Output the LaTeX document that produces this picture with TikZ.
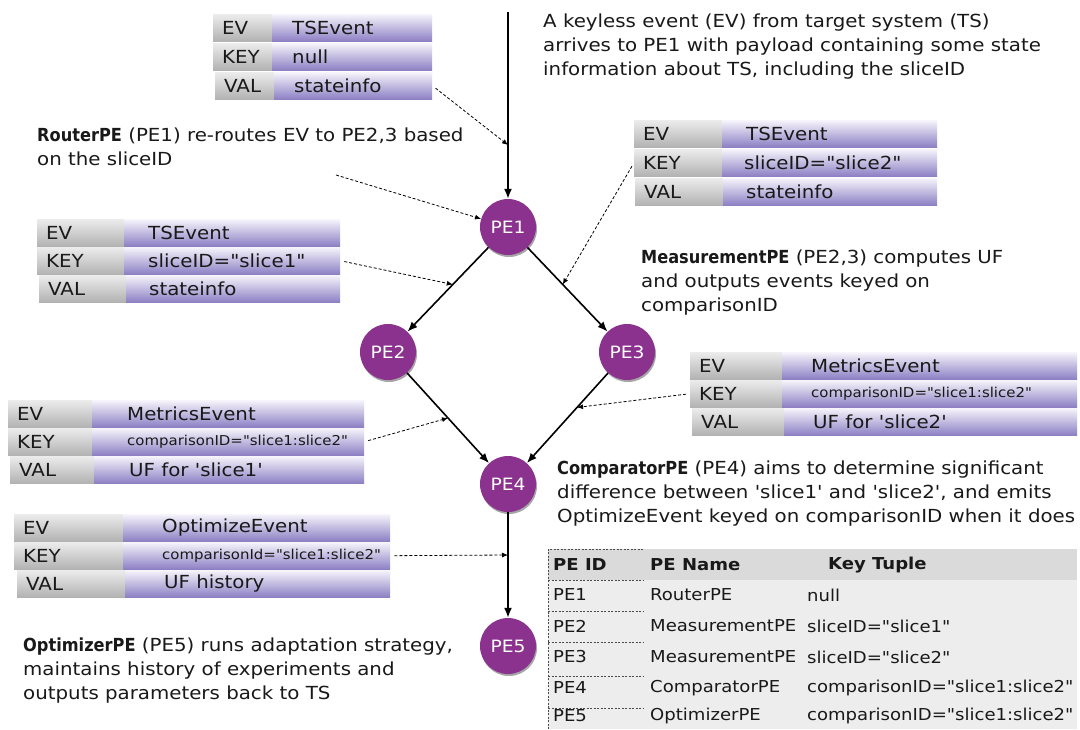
\documentclass[tikz,border=0pt]{standalone}
\usepackage{fontspec}
\setmainfont{DejaVu Sans}[Ligatures=TeXOff, FakeStretch=1.1]
\newfontfamily\bfont{DejaVu Sans Bold}[Ligatures=TeXOff, FakeStretch=0.9]
\usetikzlibrary{calc,arrows.meta,shadows}
\definecolor{pecol}{RGB}{139,50,142}
\definecolor{gtop}{RGB}{236,236,236}
\definecolor{gbot}{RGB}{178,178,178}
\definecolor{ptop}{RGB}{246,244,251}
\definecolor{pbot}{RGB}{140,128,196}
\definecolor{hdrgray}{RGB}{218,218,218}
\definecolor{bodygray}{RGB}{237,237,237}
\definecolor{ink}{RGB}{25,25,25}
\tikzset{
  txt/.style={font=\fontsize{18}{24}\selectfont, align=left, inner sep=0, anchor=north west, text=ink},
  lbl/.style={font=\fontsize{18}{20}\selectfont, inner sep=0, anchor=west, text=ink},
  smalllbl/.style={font=\fontsize{13.6}{16}\selectfont, inner sep=0, anchor=west, text=ink},
  tbl/.style={font=\fontsize{16.4}{20}\selectfont, inner sep=0, anchor=west, text=ink},
  graycell/.style={top color=gtop, bottom color=gbot, draw=none, inner sep=0, anchor=north west},
  purpcell/.style={top color=ptop, bottom color=pbot, draw=none, inner sep=0, anchor=north west},
  penode/.style={circle, fill=pecol, minimum size=56pt, inner sep=0, text=white,
    font=\fontsize{17}{20}\selectfont,
    drop shadow={opacity=0.35, shadow xshift=1pt, shadow yshift=-2pt, fill=black}},
  flow/.style={line width=1.6pt, -{Latex[length=10pt,width=8pt]}},
  dflow/.style={line width=0.8pt, dash pattern=on 3pt off 2pt, -{Latex[length=6pt,width=5pt]}, shorten <=4pt},
  tdash/.style={line width=0.6pt, dash pattern=on 2pt off 1.5pt, black!70}
}
% #1 name, #2 xl, #3 xsplit, #4 xr, #5 ytop, #6 height, #7 label, #8 value, #9 value style
\newcommand\evrow[9]{%
  \node[graycell, minimum width={(#3-#2)*1pt}, minimum height={#6*1pt}] (#1l) at (#2,#5) {};
  \node[purpcell, minimum width={(#4-#3)*1pt}, minimum height={#6*1pt}] (#1v) at (#3,#5) {};
  \node[lbl] (#1lt) at ([xshift=9pt]#1l.west) {#7};
  \node[#9] (#1vt) at ([xshift=20pt]#1v.west) {#8};
}
\begin{document}
\begin{tikzpicture}[x=1pt,y=-1pt]
\useasboundingbox (0,0) rectangle (1080,729);
\fill[white] (0,0) rectangle (1080,729);

% ---------- event tables ----------
% A (top)
\evrow{aev}{213}{272}{432}{14}{27}{EV}{TSEvent}{lbl}
\evrow{akey}{213}{272}{432}{43}{27}{KEY}{null}{lbl}
\evrow{aval}{215}{274}{432}{72}{27}{VAL}{stateinfo}{lbl}
% B (slice1)
\evrow{bev}{37}{124}{340}{219}{27}{EV}{TSEvent}{lbl, xshift=4pt}
\evrow{bkey}{37}{124}{340}{247}{27}{KEY}{sliceID="slice1"}{lbl, xshift=4pt}
\evrow{bval}{39}{126}{340}{275}{27}{VAL}{stateinfo}{lbl, xshift=3pt}
% C (slice2)
\evrow{cev}{634}{722}{937}{120}{27}{EV}{TSEvent}{lbl, xshift=4pt}
\evrow{ckey}{634}{722}{937}{149}{27}{KEY}{sliceID="slice2"}{lbl, xshift=2pt}
\evrow{cval}{635}{723}{937}{178}{27}{VAL}{stateinfo}{lbl, xshift=3pt}
% D (metrics slice2)
\evrow{dev}{690}{782}{1077}{352}{27}{EV}{MetricsEvent}{lbl, xshift=9pt}
\evrow{dkey}{690}{782}{1077}{380}{27}{KEY}{comparisonID="slice1:slice2"}{smalllbl, xshift=9pt}
\evrow{dval}{692}{784}{1077}{408}{27}{VAL}{UF for 'slice2'}{lbl, xshift=9pt}
% E (metrics slice1)
\evrow{eev}{8}{92}{364}{400}{27}{EV}{MetricsEvent}{lbl, xshift=15pt}
\evrow{ekey}{8}{92}{364}{428}{27}{KEY}{comparisonID="slice1:slice2"}{smalllbl, xshift=15pt}
\evrow{eval}{10}{94}{364}{456}{27}{VAL}{UF for 'slice1'}{lbl, xshift=15pt}
% F (optimize)
\evrow{fev}{14}{123}{390}{514}{27}{EV}{OptimizeEvent}{lbl, xshift=19pt}
\evrow{fkey}{14}{123}{390}{542}{27}{KEY}{comparisonId="slice1:slice2"}{smalllbl, xshift=19pt}
\evrow{fval}{17}{125}{390}{570}{27}{VAL}{UF history}{lbl, xshift=19pt}

% ---------- descriptive texts ----------
\node[txt] (t1) at (543,14) {A keyless event (EV) from target system (TS)\\arrives to PE1 with payload containing some state\\information about TS, including the sliceID};
\node[txt] (t2) at (37,128) {{\bfont RouterPE} (PE1) re-routes EV to PE2,3 based\\on the sliceID};
\node[txt] (t3) at (641,250) {{\bfont MeasurementPE} (PE2,3) computes UF\\and outputs events keyed on\\comparisonID};
\node[txt] (t4) at (557,461) {{\bfont ComparatorPE} (PE4) aims to determine significant\\difference between 'slice1' and 'slice2', and emits\\OptimizeEvent keyed on comparisonID when it does};
\node[txt] (t5) at (23,638) {{\bfont OptimizerPE} (PE5) runs adaptation strategy,\\maintains history of experiments and\\outputs parameters back to TS};

% ---------- PE table ----------
\node[fill=hdrgray, anchor=north west, minimum width=529pt, minimum height=31pt, inner sep=0] (thead) at (548,549) {};
\node[fill=bodygray, anchor=north west, minimum width=529pt, minimum height=149pt, inner sep=0] (tbody) at (548,580) {};
\node[tbl, font=\fontsize{16.4}{20}\selectfont\bfseries] (h1) at (553,565) {PE ID};
\node[tbl, font=\fontsize{16.4}{20}\selectfont\bfseries] (h2) at (650,565) {PE Name};
\node[tbl, font=\fontsize{16.4}{20}\selectfont\bfseries] (h3) at (828,565) {Key Tuple};
\node[tbl] (r1a) at (553,595) {PE1}; \node[tbl] (r1b) at (650,595) {RouterPE}; \node[tbl] (r1c) at (807,595) {null};
\node[tbl] (r2a) at (553,626) {PE2}; \node[tbl] (r2b) at (650,626) {MeasurementPE}; \node[tbl] (r2c) at (807,626) {sliceID="slice1"};
\node[tbl] (r3a) at (553,657) {PE3}; \node[tbl] (r3b) at (650,657) {MeasurementPE}; \node[tbl] (r3c) at (807,657) {sliceID="slice2"};
\node[tbl] (r4a) at (553,688) {PE4}; \node[tbl] (r4b) at (650,688) {ComparatorPE}; \node[tbl] (r4c) at (807,688) {comparisonID="slice1:slice2"};
\node[tbl] (r5a) at (553,716) {PE5}; \node[tbl] (r5b) at (650,716) {OptimizerPE}; \node[tbl] (r5c) at (807,716) {comparisonID="slice1:slice2"};
\draw[tdash] (548,729) -- (548,549) -- (643,549);
\foreach \yy in {580,611,642,676,708} \draw[tdash] (548,\yy) -- (643,\yy);

% ---------- PE nodes ----------
\coordinate (src) at (508,12);
\node[penode] (pe1) at (508,227) {PE1};
\node[penode] (pe2) at (388,352) {PE2};
\node[penode] (pe3) at (627,352) {PE3};
\node[penode] (pe4) at (508,484) {PE4};
\node[penode] (pe5) at (508,646) {PE5};

\draw[flow] (src) -- (pe1);
\draw[flow] (pe1) -- (pe2);
\draw[flow] (pe1) -- (pe3);
\draw[flow] (pe2) -- (pe4);
\draw[flow] (pe3) -- (pe4);
\draw[flow] (pe4) -- (pe5);

% ---------- dashed annotation arrows ----------
\coordinate (d1) at (508,145);
\coordinate (rp) at (336,175);
\coordinate (d3) at ($(pe1)!0.46!(pe2)$);
\coordinate (d4) at ($(pe1)!0.46!(pe3)$);
\coordinate (d5) at ($(pe3)!0.42!(pe4)$);
\coordinate (d6) at ($(pe2)!0.5!(pe4)$);
\coordinate (d7) at (508,555);
\draw[dflow] (avalv.east) -- (d1);
\draw[dflow, shorten <=0pt] (rp) -- (pe1);
\draw[dflow] (bkeyv.east) -- (d3);
\draw[dflow] (ckeyl.west) -- (d4);
\draw[dflow] (dkeyl.west) -- (d5);
\draw[dflow] (ekeyv.east) -- (d6);
\draw[dflow] (fkeyv.east) -- (d7);
\end{tikzpicture}
\end{document}
